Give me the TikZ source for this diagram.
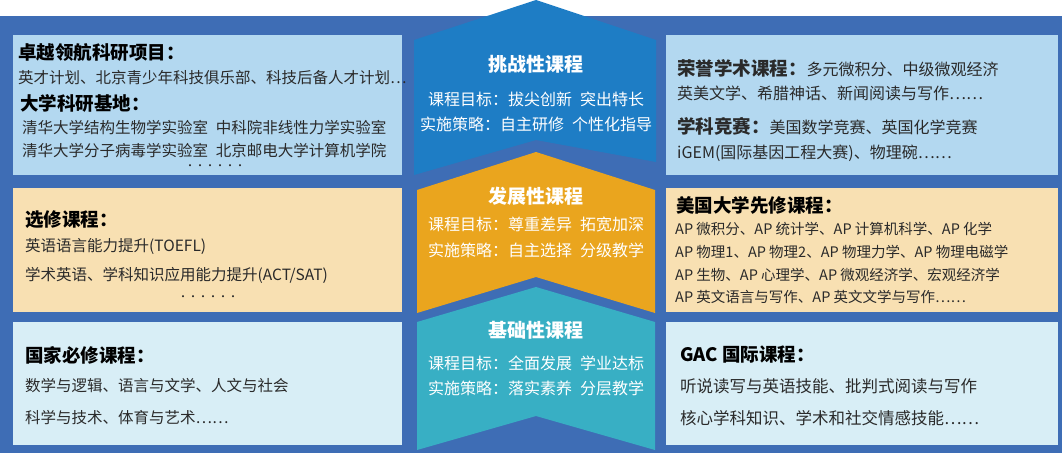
\documentclass[tikz,border=0pt]{standalone}
\usepackage{fontspec}
\setmainfont{Noto Sans CJK SC}
\definecolor{bgblue}{HTML}{3E6DB5}
\definecolor{boxa}{HTML}{B3D8F0}
\definecolor{boxb}{HTML}{F8E0B2}
\definecolor{boxc}{HTML}{D8EEF6}
\definecolor{chva}{HTML}{1E7DC5}
\definecolor{chvb}{HTML}{EAA51E}
\definecolor{chvc}{HTML}{38AFC4}
\definecolor{txt}{HTML}{2A2A2A}
\begin{document}
\begin{tikzpicture}[x=1pt,y=-1pt,
  body/.style={anchor=west,inner sep=0pt,text=txt,font=\fontsize{15.5}{17}\selectfont},
  head/.style={anchor=west,inner sep=0pt,text=black,font=\fontsize{18.5}{20}\selectfont\bfseries},
  ctitle/.style={inner sep=0pt,text=white,font=\fontsize{19}{21}\selectfont\bfseries},
  cbody/.style={inner sep=0pt,text=white,font=\fontsize{16}{18}\selectfont}]
\useasboundingbox (0,0) rectangle (1062,453);
\fill[white] (0,0) rectangle (1062,453);
\fill[bgblue] (0,16) rectangle (1062,453);
% left boxes
\fill[boxa] (13,35) rectangle (402,175);
\fill[boxb] (13,188) rectangle (402,312);
\fill[boxc] (13,322) rectangle (402,445);
% right boxes
\fill[boxa] (666,35) rectangle (1058,175);
\fill[boxb] (666,188) rectangle (1058,312);
\fill[boxc] (666,322) rectangle (1058,445);
% chevrons
\fill[chva] (414,40) -- (536,0) -- (656,40) -- (656,162) -- (536,140) -- (414,175) -- cycle;
\fill[chvb] (417,190) -- (536,152) -- (655,190) -- (655,313) -- (536,277) -- (417,313) -- cycle;
\fill[chvc] (417,322) -- (536,287) -- (655,322) -- (655,450) -- (536,416) -- (417,450) -- cycle;
% left texts
\node[head] (l1) at (18,52) {卓越领航科研项目：};
\node[body] (l2) at (18,78) {英才计划、北京青少年科技俱乐部、科技后备人才计划…};
\node[head] (l3) at (20,103) {大学科研基地：};
\node[body] (l4) at (22,128) {清华大学结构生物学实验室\enspace 中科院非线性力学实验室};
\node[body] (l5) at (22,151) {清华大学分子病毒学实验室\enspace 北京邮电大学计算机学院};
\node[inner sep=0pt,text=txt,font=\fontsize{10}{10}\selectfont] (l6) at (215,167) {······};
\node[head] (m1) at (25,220) {选修课程：};
\node[body] (m2) at (25,246) {英语语言能力提升(TOEFL)};
\node[body] (m3) at (25,275) {学术英语、学科知识应用能力提升(ACT/SAT)};
\node[inner sep=0pt,text=txt,font=\fontsize{10}{10}\selectfont] (m4) at (208,298) {······};
\node[head] (n1) at (25,355) {国家必修课程：};
\node[body] (n2) at (25,386) {数学与逻辑、语言与文学、人文与社会};
\node[body] (n3) at (25,418) {科学与技术、体育与艺术……};
% middle texts
\node[ctitle] (c1) at (536,64) {挑战性课程};
\node[cbody] (c2) at (536,99) {课程目标：拔尖创新\enspace 突出特长};
\node[cbody] (c3) at (536,124) {实施策略：自主研修\enspace 个性化指导};
\node[ctitle] (d1) at (536,196) {发展性课程};
\node[cbody] (d2) at (536,224) {课程目标：尊重差异\enspace 拓宽加深};
\node[cbody] (d3) at (536,250) {实施策略：自主选择\enspace 分级教学};
\node[ctitle] (e1) at (536,330) {基础性课程};
\node[cbody] (e2) at (536,363) {课程目标：全面发展\enspace 学业达标};
\node[cbody] (e3) at (536,388) {实施策略：落实素养\enspace 分层教学};
% right texts
\node[body,font=\fontsize{16}{18}\selectfont] (r1) at (677,68) {\textbf{\fontsize{18.5}{20}\selectfont 荣誉学术课程：}多元微积分、中级微观经济};
\node[body,font=\fontsize{16}{18}\selectfont] (r2) at (677,93) {英美文学、希腊神话、新闻阅读与写作……};
\node[body,font=\fontsize{16}{18}\selectfont] (r3) at (677,126) {\textbf{\fontsize{18.5}{20}\selectfont 学科竞赛：}美国数学竞赛、英国化学竞赛};
\node[body,font=\fontsize{16}{18}\selectfont] (r4) at (677,153) {iGEM(国际基因工程大赛)、物理碗……};
\node[head] (s1) at (676,205) {美国大学先修课程：};
\node[body,font=\fontsize{14.5}{16}\selectfont] (s2) at (675,229) {AP 微积分、AP 统计学、AP 计算机科学、AP 化学};
\node[body,font=\fontsize{14.5}{16}\selectfont] (s3) at (675,252) {AP 物理1、AP 物理2、AP 物理力学、AP 物理电磁学};
\node[body,font=\fontsize{14.5}{16}\selectfont] (s4) at (675,275) {AP 生物、AP 心理学、AP 微观经济学、宏观经济学};
\node[body,font=\fontsize{14.5}{16}\selectfont] (s5) at (675,297) {AP 英文语言与写作、AP 英文文学与写作……};
\node[head] (t1) at (680,355) {GAC 国际课程：};
\node[body,font=\fontsize{16.5}{18}\selectfont] (t2) at (680,386) {听说读写与英语技能、批判式阅读与写作};
\node[body,font=\fontsize{16.5}{18}\selectfont] (t3) at (680,418) {核心学科知识、学术和社交情感技能……};
\end{tikzpicture}
\end{document}
